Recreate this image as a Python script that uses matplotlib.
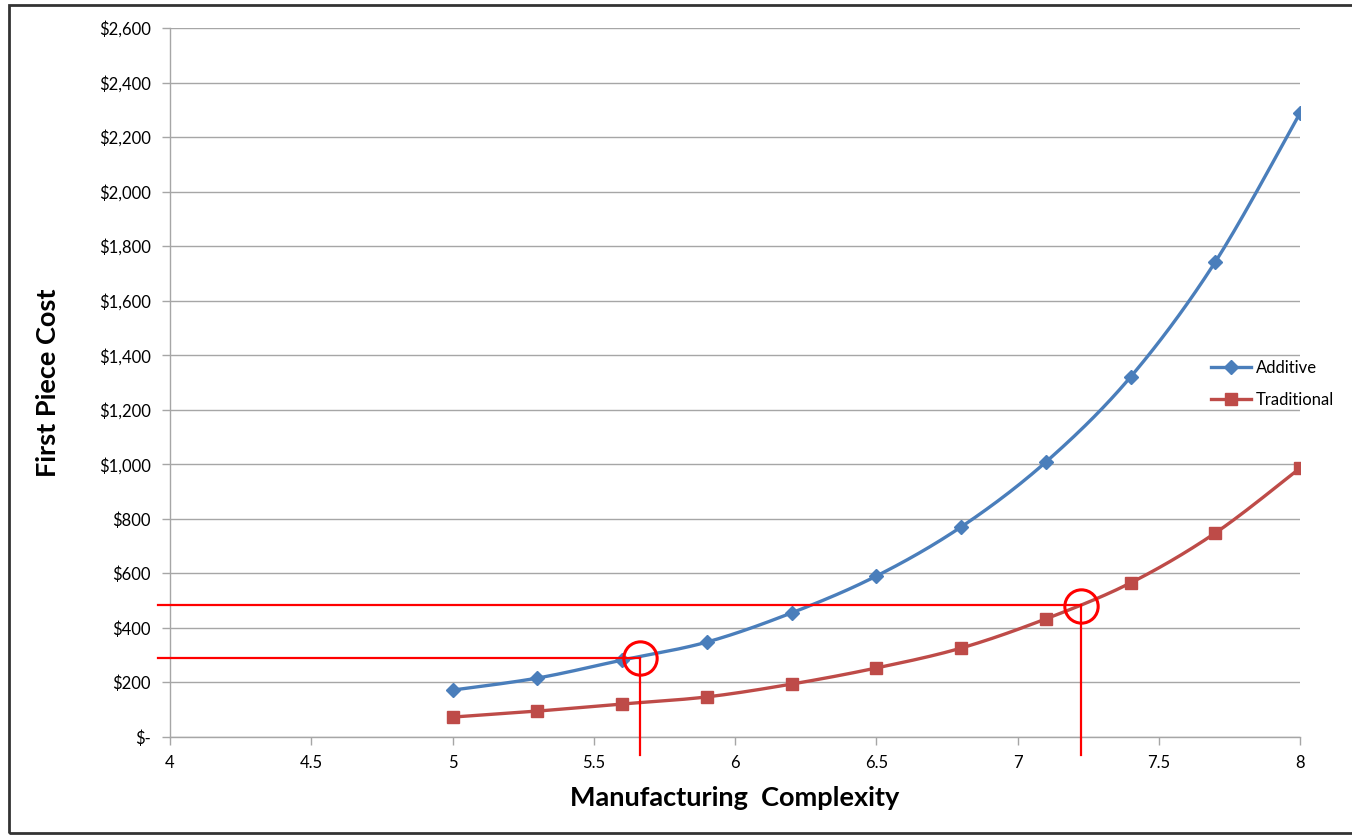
"""First piece cost vs manufacturing complexity: additive vs traditional."""

import matplotlib
matplotlib.use("Agg")
import matplotlib.pyplot as plt
from matplotlib.patches import Rectangle
from matplotlib.ticker import FuncFormatter
import numpy as np

complexity = [5.0, 5.3, 5.6, 5.9, 6.2, 6.5, 6.8, 7.1, 7.4, 7.7, 8.0]
additive_cost = [172, 216, 282, 348, 455, 590, 770, 1008, 1320, 1742, 2288]
traditional_cost = [73, 95, 121, 147, 194, 253, 326, 433, 565, 748, 986]

# break-even callouts: (complexity, cost)
callouts = [(5.664, 288), (7.226, 482)]
callout_levels = [290, 484]

x_ticks = [4, 4.5, 5, 5.5, 6, 6.5, 7, 7.5, 8]
y_ticks = list(range(0, 2601, 200))

BLUE = "#4A7EBB"
RED = "#BE4B48"
GRID = "#A6A6A6"

plt.rcParams["font.family"] = ["Lato", "DejaVu Sans"]


def smooth(xs, ys, n=30):
    """Catmull-Rom curve through the points, like a smoothed spreadsheet line."""
    pts = np.column_stack([xs, ys]).astype(float)
    pts = np.vstack([pts[0], pts, pts[-1]])
    out = []
    for i in range(1, len(pts) - 2):
        p0, p1, p2, p3 = pts[i - 1], pts[i], pts[i + 1], pts[i + 2]
        t = np.linspace(0, 1, n, endpoint=False)[:, None]
        seg = 0.5 * ((2 * p1) + (-p0 + p2) * t
                     + (2 * p0 - 5 * p1 + 4 * p2 - p3) * t ** 2
                     + (-p0 + 3 * p1 - 3 * p2 + p3) * t ** 3)
        out.append(seg)
    out.append(pts[-2][None, :])
    out = np.vstack(out)
    return out[:, 0], out[:, 1]


fig = plt.figure(figsize=(13.52, 8.35), dpi=100)
ax = fig.add_axes([170 / 1352, 1 - 737 / 835, 1130 / 1352, 709 / 835])

for xs, ys, color, marker, ms, label in [
    (complexity, additive_cost, BLUE, "D", 7.5, "Additive"),
    (complexity, traditional_cost, RED, "s", 9, "Traditional"),
]:
    sx, sy = smooth(xs, ys)
    ax.plot(sx, sy, color=color, lw=2.4, zorder=3, solid_capstyle="round")
    ax.plot(xs, ys, ls="none", marker=marker, ms=ms, color=color, zorder=4)
    ax.plot([], [], color=color, lw=2.4, marker=marker, ms=ms, label=label)

# red break-even guides
below = -66
for (cx, cy), level in zip(callouts, callout_levels):
    ax.plot([3.958, cx], [level, level], color="red", lw=1.6, clip_on=False, zorder=5)
    ax.plot([cx, cx], [level, below], color="red", lw=1.6, clip_on=False, zorder=5)
    ax.plot([cx], [cy], marker="o", ms=24, mfc="none", mec="red", mew=2.2,
            clip_on=False, zorder=6)

ax.set_xlim(4, 8)
ax.set_ylim(0, 2600)
ax.set_xticks(x_ticks)
ax.set_xticklabels([f"{v:g}" for v in x_ticks])
ax.set_yticks(y_ticks)
ax.yaxis.set_major_formatter(FuncFormatter(lambda v, _: "$-" if v == 0 else f"${v:,.0f}"))
ax.tick_params(axis="both", colors=GRID, labelcolor="black", labelsize=12,
               length=6, width=1)
ax.tick_params(axis="x", pad=7)
ax.tick_params(axis="y", pad=8)
ax.grid(axis="y", color=GRID, lw=1)
ax.set_axisbelow(True)
for side in ("top", "right"):
    ax.spines[side].set_visible(False)
for side in ("left", "bottom"):
    ax.spines[side].set_color(GRID)
    ax.spines[side].set_linewidth(1)

ax.set_xlabel("Manufacturing  Complexity", fontsize=19.5, fontweight="bold", labelpad=11)
ax.set_ylabel("First Piece Cost", fontsize=19.5, fontweight="bold", labelpad=28)

ax.legend(loc="center left", bbox_to_anchor=(1203 / 1352, 1 - 384 / 835),
          bbox_transform=fig.transFigure, frameon=False, fontsize=12,
          handlelength=2.4, handletextpad=0.25, labelspacing=1.0, borderpad=0)

# outer chart frame
fig.patches.append(Rectangle((9 / 1352, 2 / 835), 1.2, 1 - 7 / 835,
                             transform=fig.transFigure, fill=False,
                             edgecolor="#333333", lw=2))

fig.savefig("out.png", dpi=100)
